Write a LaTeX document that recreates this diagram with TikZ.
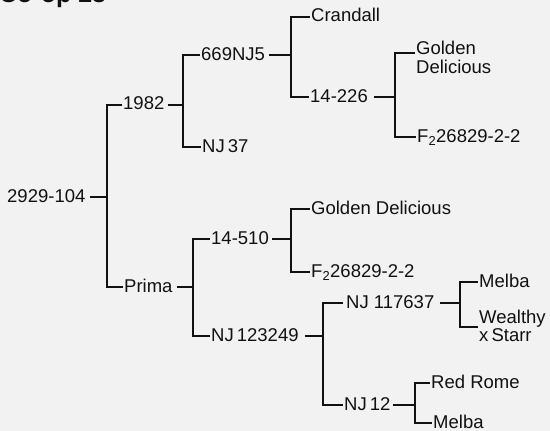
\documentclass[tikz,border=0pt]{standalone}
\usepackage{fontspec}
\setmainfont{Liberation Sans}
\definecolor{bgc}{HTML}{F2F2F2}
\definecolor{ink}{HTML}{111111}
\begin{document}
\begin{tikzpicture}[x=1pt,y=-1pt,
  lbl/.style={anchor=west, inner sep=0pt, text height=10pt, text depth=0pt, text=ink,
    font=\fontsize{18.5}{19}\selectfont},
  mlbl/.style={anchor=base west, inner sep=0pt, align=left, text=ink,
    font=\fontsize{18.5}{18}\selectfont},
  wire/.style={draw=ink, line width=2.2pt}]
\useasboundingbox[fill=bgc] (0,0) rectangle (550,431);
\begin{scope}
\clip (0,0) rectangle (550,431);
\node[anchor=base west, inner sep=0pt, text=ink, font=\bfseries\fontsize{25}{25}\selectfont] (title) at (-1,2) {Co-op 23};
\end{scope}
% labels
\node[lbl] (root) at (7,197) {2929-104};
\node[lbl] (n1982) at (123,105) {1982};
\node[lbl] (prima) at (124,287) {Prima};
\node[lbl] (n669) at (201,55) {669NJ5};
\node[lbl] (nj37) at (202,147) {NJ\,37};
\node[lbl] (crand) at (311,17) {Crandall};
\node[lbl] (n14a) at (310,97) {14-226};
\node[mlbl] (gd1) at (416,73) {Golden\\Delicious};
\node[lbl] (f2a) at (417,137) {F\textsubscript{2}26829-2-2};
\node[lbl] (n14b) at (211,239) {14-510};
\node[lbl] (nj123) at (211,336) {NJ\,123249};
\node[lbl] (gd2) at (311,209) {Golden Delicious};
\node[lbl] (f2b) at (311,272) {F\textsubscript{2}26829-2-2};
\node[lbl] (nj117) at (346,303) {NJ 117637};
\node[lbl] (nj12) at (344,405) {NJ\,12};
\node[lbl] (melba1) at (479,282) {Melba};
\node[mlbl] (wxs) at (479,341) {Wealthy\\x\,Starr};
\node[lbl] (redrome) at (431,383) {Red Rome};
\node[lbl] (melba2) at (433,423) {Melba};
% bar positions
\coordinate (b0) at (107,0);
\coordinate (b1) at (183,0);
\coordinate (b2) at (291,0);
\coordinate (b3) at (395,0);
\coordinate (b4) at (193,0);
\coordinate (b5) at (291,0);
\coordinate (b6) at (323,0);
\coordinate (b7) at (460,0);
\coordinate (b8) at (415,0);
% attachment points of two-line labels
\coordinate (gd1c) at ([xshift=-1pt,yshift=20pt]gd1.base west);
\coordinate (wxsc) at ([xshift=-1pt,yshift=14pt]wxs.base west);
% root
\draw[wire] ([xshift=4pt]root.east) -- (b0 |- root.east);
\draw[wire] ([xshift=-1pt]n1982.west) -- (b0 |- n1982.west) -- (b0 |- prima.west) -- ([xshift=-1pt]prima.west);
% 1982
\draw[wire] ([xshift=3pt]n1982.east) -- (b1 |- n1982.east);
\draw[wire] ([xshift=-1pt]n669.west) -- (b1 |- n669.west) -- (b1 |- nj37.west) -- ([xshift=-1pt]nj37.west);
% 669NJ5
\draw[wire] ([xshift=4pt]n669.east) -- (b2 |- n669.east);
\draw[wire] ([xshift=-1pt]crand.west) -- (b2 |- crand.west) -- (b2 |- n14a.west) -- ([xshift=-1pt]n14a.west);
% 14-226
\draw[wire] ([xshift=6pt]n14a.east) -- (b3 |- n14a.east);
\draw[wire] (gd1c) -- (b3 |- gd1c) -- (b3 |- f2a.west) -- ([xshift=-1pt]f2a.west);
% Prima
\draw[wire] ([xshift=4pt]prima.east) -- (b4 |- prima.east);
\draw[wire] ([xshift=-1pt]n14b.west) -- (b4 |- n14b.west) -- (b4 |- nj123.west) -- ([xshift=-1pt]nj123.west);
% 14-510
\draw[wire] ([xshift=3pt]n14b.east) -- (b5 |- n14b.east);
\draw[wire] ([xshift=-1pt]gd2.west) -- (b5 |- gd2.west) -- (b5 |- f2b.west) -- ([xshift=-1pt]f2b.west);
% NJ123249
\draw[wire] ([xshift=6pt]nj123.east) -- (b6 |- nj123.east);
\draw[wire] ([xshift=-3pt]nj117.west) -- (b6 |- nj117.west) -- (b6 |- nj12.west) -- ([xshift=-1pt]nj12.west);
% NJ 117637
\draw[wire] ([xshift=5pt]nj117.east) -- (b7 |- nj117.east);
\draw[wire] ([xshift=-1pt]melba1.west) -- (b7 |- melba1.west) -- (b7 |- wxsc) -- (wxsc);
% NJ12
\draw[wire] ([xshift=2pt]nj12.east) -- (b8 |- nj12.east);
\draw[wire] ([xshift=-1pt]redrome.west) -- (b8 |- redrome.west) -- (b8 |- melba2.west) -- ([xshift=-1pt]melba2.west);
\end{tikzpicture}
\end{document}
